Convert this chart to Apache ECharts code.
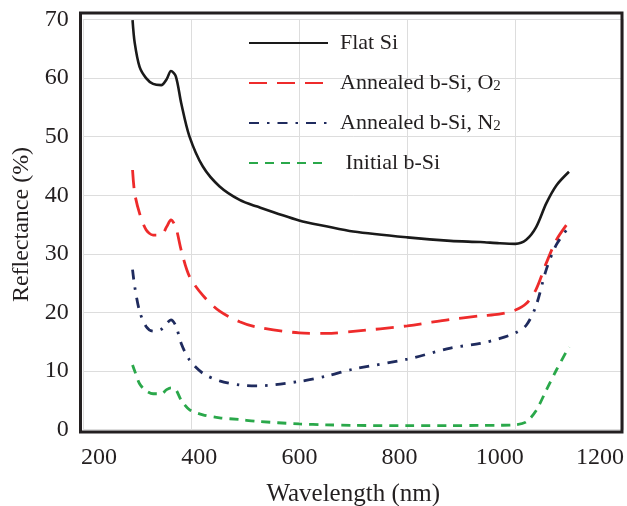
<!DOCTYPE html>
<html>
<head>
<meta charset="utf-8">
<script src="https://cdn.jsdelivr.net/npm/echarts@6/dist/echarts.min.js"></script>
<style>html,body{margin:0;padding:0;background:#fff}#c{width:627px;height:506px}</style>
</head>
<body>
<div id="c"></div>
<script>
// Wavelength (nm)
const wavelengths = [292, 296, 305, 317, 330, 345, 355, 363, 372, 382, 397, 422, 453, 490, 521, 600, 650, 700, 800, 880, 935, 970, 1000, 1020, 1038, 1057, 1076, 1099];
// Reflectance (%)
const flatSi     = [69.9, 66.0, 61.9, 60.0, 59.0, 58.8, 59.8, 61.2, 60.3, 55.7, 50.1, 44.9, 41.5, 39.2, 38.1, 35.7, 34.7, 33.8, 32.8, 32.2, 32.0, 31.8, 31.7, 32.4, 34.5, 38.6, 41.7, 44.0];
const annealedO2 = [44.3, 40.3, 36.9, 34.1, 33.2, 33.2, 34.6, 35.8, 34.5, 30.6, 26.2, 22.9, 20.2, 18.4, 17.5, 16.5, 16.4, 16.75, 17.7, 18.8, 19.4, 19.7, 20.4, 21.5, 23.9, 28.4, 32.4, 35.5];
const annealedN2 = [27.3, 24.4, 20.2, 17.6, 16.8, 17.1, 18.1, 18.7, 17.7, 14.7, 11.9, 9.6, 8.3, 7.6, 7.45, 8.2, 9.1, 10.3, 12.0, 13.9, 14.7, 15.5, 16.5, 17.8, 21.1, 27.3, 31.6, 34.6];
const initialBSi = [11.0, 10.0, 7.8, 6.6, 6.1, 6.1, 6.8, 7.1, 6.8, 5.0, 3.4, 2.5, 2.0, 1.7, 1.4, 0.95, 0.8, 0.7, 0.66, 0.66, 0.7, 0.72, 0.8, 1.3, 3.2, 6.7, 10.2, 14.1];
const seriesNames = ['Flat Si', 'Annealed b-Si, O2', 'Annealed b-Si, N2', 'Initial b-Si'];
const xTicks = [200, 400, 600, 800, 1000, 1200];
const yTicks = [0, 10, 20, 30, 40, 50, 60, 70];

const pair = (ys) => wavelengths.map((w, i) => [w, ys[i]]);
const font = '"Liberation Serif", "Times New Roman", serif';
const txt = '#231f20';

const chart = echarts.init(document.getElementById('c'), null, {renderer: 'canvas'});
chart.setOption({
  animation: false,
  backgroundColor: '#fff',
  grid: [
    {left: 82.8, right: 3.4, top: 19.5, bottom: 76.5, outerBoundsMode: 'none', containLabel: false},
    {left: 99, right: 27, top: 19.5, bottom: 76.5, outerBoundsMode: 'none', containLabel: false}
  ],
  xAxis: [
    {
      type: 'value', gridIndex: 0, min: xTicks[0], max: xTicks[xTicks.length - 1], interval: 200,
      axisLine: {show: false}, axisTick: {show: false}, axisLabel: {show: false},
      splitLine: {show: true, lineStyle: {color: '#dddddd', width: 1}},
      name: 'Wavelength (nm)', nameLocation: 'middle', nameGap: 52,
      nameTextStyle: {fontFamily: font, fontSize: 25, color: txt}
    },
    {
      type: 'value', gridIndex: 1, min: xTicks[0], max: xTicks[xTicks.length - 1], interval: 200,
      axisLine: {show: false}, axisTick: {show: false}, splitLine: {show: false},
      axisLabel: {show: true, margin: 16, fontFamily: font, fontSize: 24, color: txt,
                  formatter: (v) => String(v)}
    }
  ],
  yAxis: [
    {
      type: 'value', gridIndex: 0, min: yTicks[0], max: yTicks[yTicks.length - 1], interval: 10,
      axisLine: {show: false}, axisTick: {show: false},
      axisLabel: {margin: 14, fontFamily: font, fontSize: 24, color: txt, padding: [6, 0, 0, 0],
                  formatter: (v) => String(v)},
      splitLine: {show: true, lineStyle: {color: '#dddddd', width: 1}},
      name: 'Reflectance (%)', nameLocation: 'middle', nameGap: 44,
      nameTextStyle: {fontFamily: font, fontSize: 24, color: txt}
    },
    {type: 'value', gridIndex: 1, min: 0, max: 70, show: false}
  ],
  legend: {
    orient: 'vertical', left: 243, top: 27,
    itemWidth: 79, itemHeight: 22, itemGap: 18,
    itemStyle: {opacity: 0, borderWidth: 0},
    data: seriesNames,
    formatter: function (n) {
      if (n.endsWith('2')) return '{n|' + n.slice(0, -1) + '}{s|2}';
      if (n === 'Initial b-Si') return '{n| ' + n + '}';
      return '{n|' + n + '}';
    },
    textStyle: {
      fontFamily: font, fontSize: 22, color: txt, padding: [0, 0, 0, 7],
      rich: {
        n: {fontFamily: font, fontSize: 22, color: txt},
        s: {fontFamily: font, fontSize: 15, color: txt, verticalAlign: 'bottom', padding: [6, 0, 0, 0]}
      }
    }
  },
  graphic: [{
    type: 'rect', z: 100, silent: true,
    shape: {x: 80.5, y: 13, width: 541.5, height: 419},
    style: {fill: 'none', stroke: '#231f20', lineWidth: 3}
  }],
  series: [
    {name: seriesNames[0], type: 'line', xAxisIndex: 0, yAxisIndex: 0, data: pair(flatSi), symbol: 'none', smooth: 0.3,
     lineStyle: {color: '#1a1a1a', width: 2.6}, itemStyle: {color: '#1a1a1a'}},
    {name: seriesNames[1], type: 'line', xAxisIndex: 0, yAxisIndex: 0, data: pair(annealedO2), symbol: 'none', smooth: 0.3,
     lineStyle: {color: '#ee2b2b', width: 2.8, type: [18, 10]}, itemStyle: {color: '#ee2b2b'}},
    {name: seriesNames[2], type: 'line', xAxisIndex: 0, yAxisIndex: 0, data: pair(annealedN2), symbol: 'none', smooth: 0.3,
     lineStyle: {color: '#1f2b5e', width: 2.8, type: [10, 8, 2.5, 8]}, itemStyle: {color: '#1f2b5e'}},
    {name: seriesNames[3], type: 'line', xAxisIndex: 0, yAxisIndex: 0, data: pair(initialBSi), symbol: 'none', smooth: 0.3,
     lineStyle: {color: '#2aa84a', width: 2.8, type: [9, 7]}, itemStyle: {color: '#2aa84a'}}
  ]
});
</script>
</body>
</html>
